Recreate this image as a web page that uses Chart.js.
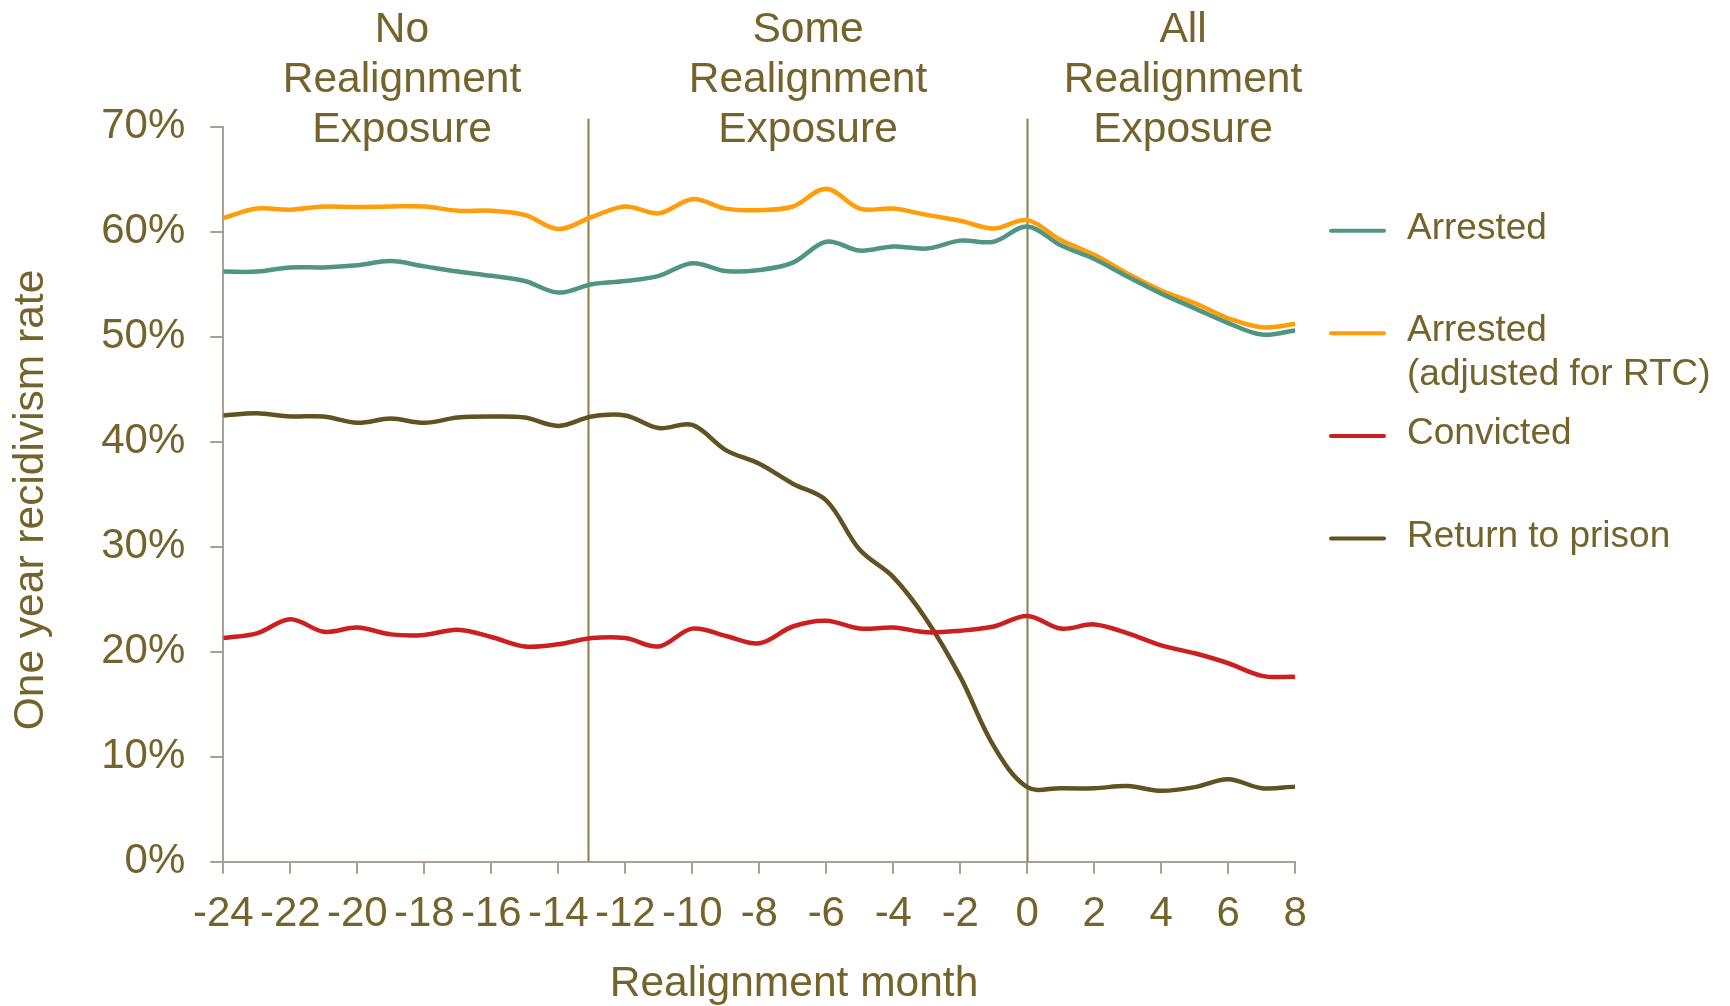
<!DOCTYPE html>
<html>
<head>
<meta charset="utf-8">
<script src="https://cdn.jsdelivr.net/npm/chart.js@4/dist/chart.umd.min.js"></script>
<style>
  body { margin: 0; background: #fff; }
  #wrap { width: 1730px; height: 1006px; position: relative; }
</style>
</head>
<body>
<div id="wrap"><canvas id="chart"></canvas></div>
<script>
// realignment month (x axis)
const months = [-24, -23, -22, -21, -20, -19, -18, -17, -16, -15, -14, -13,
                -12, -11, -10, -9, -8, -7, -6, -5, -4, -3, -2, -1,
                0, 1, 2, 3, 4, 5, 6, 7, 8];

// one year recidivism rate, %
const arrested = [56.2, 56.2, 56.6, 56.6, 56.8, 57.2, 56.7, 56.2, 55.8, 55.3, 54.2, 55.0,
                  55.3, 55.8, 57.0, 56.25, 56.35, 57.05, 59.05, 58.2, 58.6, 58.4, 59.15, 59.05,
                  60.5, 58.7, 57.4, 55.7, 54.1, 52.7, 51.3, 50.2, 50.6];
const arrestedAdj = [61.3, 62.2, 62.1, 62.4, 62.35, 62.4, 62.4, 62.0, 62.0, 61.6, 60.25, 61.4,
                     62.4, 61.75, 63.1, 62.2, 62.05, 62.4, 64.1, 62.2, 62.2, 61.6, 61.05, 60.3,
                     61.1, 59.2, 57.8, 56.0, 54.4, 53.2, 51.75, 50.9, 51.2];
const convicted = [21.3, 21.75, 23.1, 21.9, 22.3, 21.65, 21.6, 22.1, 21.4, 20.5, 20.7, 21.3,
                   21.3, 20.5, 22.2, 21.5, 20.8, 22.4, 22.95, 22.2, 22.3, 21.85, 22.0, 22.4,
                   23.4, 22.2, 22.6, 21.75, 20.6, 19.85, 18.9, 17.7, 17.6];
const returnPrison = [42.5, 42.7, 42.4, 42.4, 41.8, 42.2, 41.8, 42.3, 42.4, 42.3, 41.5, 42.4,
                      42.5, 41.3, 41.6, 39.2, 37.9, 36.0, 34.4, 29.7, 27.1, 23.0, 17.6, 11.0,
                      7.1, 7.0, 7.0, 7.2, 6.75, 7.1, 7.85, 7.0, 7.15];

const seriesNames = ["Arrested", "Arrested\n(adjusted for RTC)", "Convicted", "Return to prison"];
const seriesColors = ["#4f9582", "#ff9d0a", "#cc1f1f", "#615221"];

// period boundaries and their labels
const dividers = [-13.1, 0];
const periodLabels = ["No\nRealignment\nExposure", "Some\nRealignment\nExposure", "All\nRealignment\nExposure"];

const textColor = "#74632a";
const axisColor = "#a8a090";
const font = "'Liberation Sans', Arial, sans-serif";
Chart.defaults.font.family = font;
Chart.defaults.color = textColor;

const toPoints = (vals) => vals.map((v, i) => ({ x: months[i], y: v }));
const allSeries = [arrested, arrestedAdj, convicted, returnPrison];

const overlay = {
  id: "overlay",
  beforeDatasetsDraw(chart) {
    const { ctx, chartArea, scales } = chart;
    ctx.save();
    ctx.strokeStyle = "#8c7e4e";
    ctx.lineWidth = 2;
    dividers.forEach((d) => {
      const x = Math.round(scales.x.getPixelForValue(d)) + 0.5;
      ctx.beginPath();
      ctx.moveTo(x, chartArea.top - 8);
      ctx.lineTo(x, chartArea.bottom);
      ctx.stroke();
    });
    ctx.restore();
  },
  afterDraw(chart) {
    const { ctx } = chart;
    ctx.save();
    ctx.fillStyle = textColor;

    // period labels above the plot
    ctx.font = "42.5px " + font;
    ctx.textAlign = "center";
    ctx.textBaseline = "alphabetic";
    const centers = [402, 808, 1183];
    periodLabels.forEach((lbl, i) => {
      lbl.split("\n").forEach((line, j) => ctx.fillText(line, centers[i], 42 + j * 50));
    });

    // axis titles
    ctx.font = "42.5px " + font;
    ctx.fillText("Realignment month", 794, 996);
    ctx.save();
    ctx.translate(43, 500);
    ctx.rotate(-Math.PI / 2);
    ctx.fillText("One year recidivism rate", 0, 0);
    ctx.restore();

    // legend
    ctx.font = "37px " + font;
    ctx.textAlign = "left";
    ctx.lineCap = "round";
    ctx.lineWidth = 4;
    seriesNames.forEach((name, i) => {
      const y = 230.7 + i * 102.6;
      ctx.strokeStyle = seriesColors[i];
      ctx.beginPath();
      ctx.moveTo(1331, y);
      ctx.lineTo(1384, y);
      ctx.stroke();
      name.split("\n").forEach((line, j) => ctx.fillText(line, 1407, y + 8 + j * 44));
    });
    ctx.restore();
  }
};

new Chart(document.getElementById("chart"), {
  type: "line",
  data: {
    datasets: allSeries.map((vals, i) => ({
      label: seriesNames[i],
      data: toPoints(vals),
      borderColor: seriesColors[i],
      backgroundColor: seriesColors[i],
      borderWidth: 4.5,
      pointRadius: 0,
      tension: 0.35,
      fill: false
    }))
  },
  options: {
    responsive: true,
    maintainAspectRatio: false,
    animation: false,
    layout: { padding: { left: 0, top: 126.7, right: 434.7, bottom: 0 } },
    plugins: { legend: { display: false }, tooltip: { enabled: false } },
    scales: {
      x: {
        type: "linear",
        min: -24,
        max: 8,
        afterFit: (s) => { s.height = 144.3; },
        grid: { drawOnChartArea: false, drawTicks: true, tickLength: 12, color: axisColor, lineWidth: 2 },
        border: { display: true, color: axisColor, width: 2 },
        ticks: {
          stepSize: 2,
          autoSkip: false,
          maxRotation: 0,
          padding: 16,
          color: textColor,
          font: { size: 42 },
          callback: (v) => String(v)
        }
      },
      y: {
        min: 0,
        max: 70,
        afterFit: (s) => { s.width = 223.3; },
        grid: { drawOnChartArea: false, drawTicks: true, tickLength: 13, color: axisColor, lineWidth: 2 },
        border: { display: true, color: axisColor, width: 2 },
        ticks: {
          stepSize: 10,
          padding: 25,
          color: textColor,
          font: { size: 42 },
          callback: (v) => v + "%"
        }
      }
    }
  },
  plugins: [overlay]
});
</script>
</body>
</html>
